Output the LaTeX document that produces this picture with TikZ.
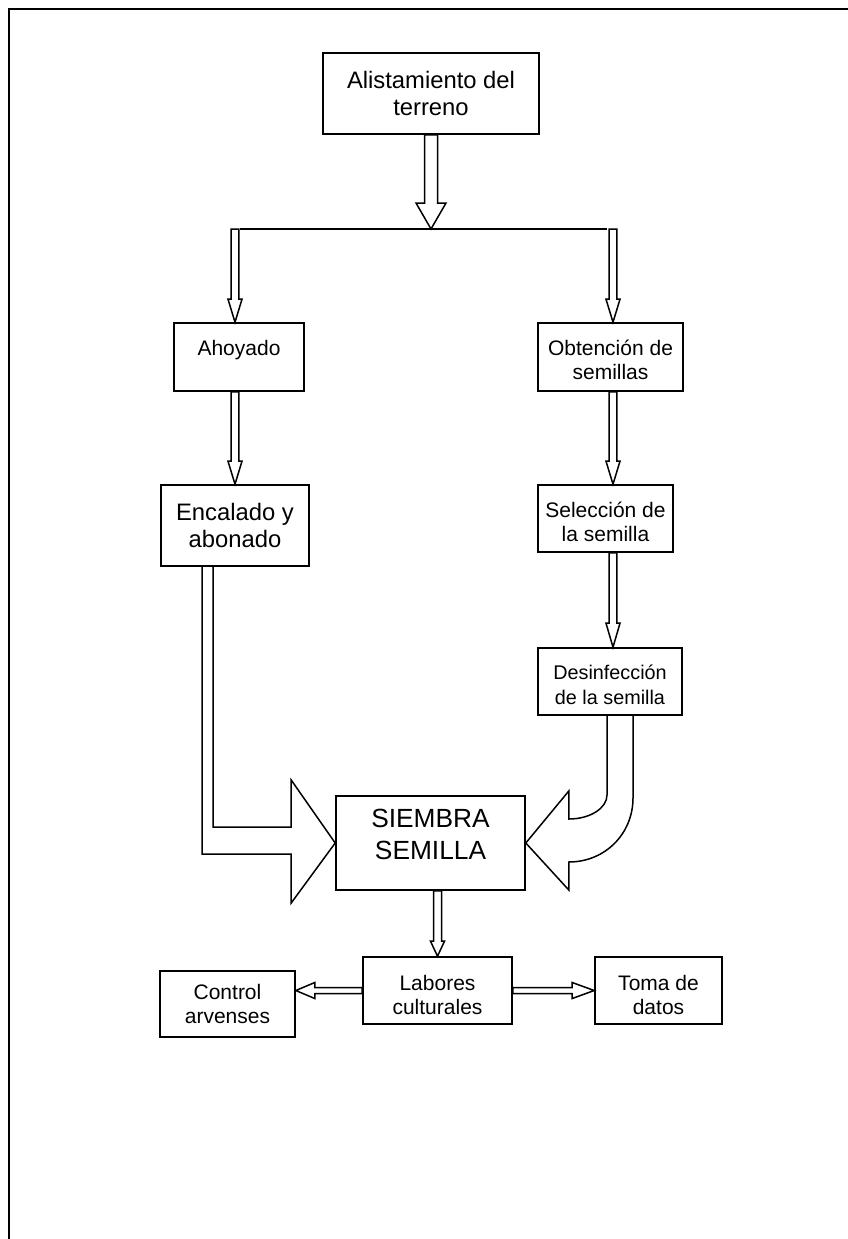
\documentclass[tikz,border=0pt]{standalone}
\usepackage{fontspec}
\setmainfont{Liberation Sans}
\usetikzlibrary{calc}
\newcommand\vblk[5]{\draw[blk] let \p1=(#1), \p2=(#2) in (\x1-#3,\y1) -- (\x1-#3,\y2+#5) -- (\x1-#4,\y2+#5) -- (\x1,\y2) -- (\x1+#4,\y2+#5) -- (\x1+#3,\y2+#5) -- (\x1+#3,\y1) -- cycle;}
\newcommand\hblk[6]{\draw[blk] let \p1=(#1), \p2=(#2), \n1={#6*#5} in (\x1,\y1+#3) -- ({\x2-\n1},\y1+#3) -- ({\x2-\n1},\y1+#4) -- (\x2,\y1) -- ({\x2-\n1},\y1-#4) -- ({\x2-\n1},\y1-#3) -- (\x1,\y1-#3) -- cycle;}
\newcommand\toppad[1]{\rule{0pt}{#1}}
\begin{document}
\begin{tikzpicture}[x=1pt,y=-1pt,
  box/.style={draw,line width=1.6pt,align=center,inner sep=0pt},
  sm/.style={font=\fontsize{21}{24}\selectfont},
  bg/.style={font=\fontsize{23.8}{27}\selectfont},
  blk/.style={draw,line width=1.5pt,line join=miter}]
\useasboundingbox (0,0) rectangle (848,1239);
% frame
\draw[line width=2.6pt] (9,9) -- (848,9);
\draw[line width=2pt] (9,8) -- (9,1239);
% boxes
\node[box,bg,minimum width=216pt,minimum height=81pt] (alis) at (431,93.5) {Alistamiento del\\terreno};
\node[box,sm,minimum width=130pt,minimum height=68pt] (ahoy) at (239,357) {\toppad{21.5pt}Ahoyado\\~};
\node[box,sm,minimum width=145pt,minimum height=68pt] (obt) at (610.5,357) {\toppad{21.5pt}Obtención de\\semillas};
\node[box,bg,minimum width=148pt,minimum height=81pt] (enc) at (235,525.5) {Encalado y\\abonado};
\node[box,sm,minimum width=135pt,minimum height=67pt] (sel) at (605.5,518.5) {\toppad{21.5pt}Selección de\\la semilla};
\node[box,font=\fontsize{19.8}{25}\selectfont,minimum width=144pt,minimum height=67pt] (des) at (610,681.5) {\toppad{20.5pt}Desinfección\\de la semilla};
\node[box,font=\fontsize{26.3}{32}\selectfont,minimum width=189pt,minimum height=94pt] (sie) at (430.5,843) {SIEMBRA\\SEMILLA\rule[-18pt]{0pt}{0pt}};
\node[box,sm,minimum width=149pt,minimum height=67pt] (lab) at (437.5,990.5) {\toppad{23.3pt}Labores\\culturales};
\node[box,sm,minimum width=135pt,minimum height=66pt] (ctl) at (227.5,1004) {Control\\arvenses};
\node[box,sm,minimum width=127pt,minimum height=67pt] (toma) at (658.5,990.5) {\toppad{23.3pt}Toma de\\datos};
% branch
\coordinate (br) at (431,229);
\coordinate (bl) at (235,229);
\coordinate (brr) at (613,229);
\vblk{alis.south}{br}{6.5pt}{15pt}{26pt}
\draw[line width=1.5pt] ($(bl)+(5,0)$) -- ($(brr)+(-6,0)$);
\vblk{bl}{bl |- ahoy.north}{3.8pt}{7pt}{23pt}
\vblk{brr}{brr |- obt.north}{3.8pt}{7pt}{23pt}
\vblk{bl |- ahoy.south}{bl |- enc.north}{3.8pt}{7pt}{23pt}
\vblk{brr |- obt.south}{brr |- sel.north}{3.8pt}{7pt}{23pt}
\vblk{brr |- sel.south}{brr |- des.north}{3.8pt}{7pt}{24pt}
\vblk{sie.south -| lab.north}{lab.north}{4pt}{7pt}{15pt}
\hblk{lab.west}{ctl.east |- lab.west}{3pt}{8pt}{19pt}{-1}
\hblk{lab.east}{toma.west |- lab.east}{3pt}{8pt}{22pt}{1}
% bent arrow from Encalado to Siembra
\draw[blk] let \p1=(enc.south), \p2=(sie.west) in
  (\x1-22pt,\y1) -- (\x1-22pt,\y2+16pt) -- (\x2-44pt,\y2+16pt) -- (\x2-44pt,\y2+63pt)
  -- (\x2,\y2) -- (\x2-44pt,\y2-60pt) -- (\x2-44pt,\y2-11pt) -- (\x1-33pt,\y2-11pt)
  -- (\x1-33pt,\y1);
% curved arrow from Desinfeccion to Siembra
\draw[blk] let \p1=(des.south), \p2=(sie.east) in
  (\x1-3pt,\y1) -- (\x1-3pt,\y2+48pt)
  .. controls (\x1-3pt,\y2+35pt) and (\x2+64.5pt,\y2+24pt) .. (\x2+43pt,\y2+24pt)
  -- (\x2+43pt,\y2+52pt) -- (\x2,\y2) -- (\x2+43pt,\y2-47pt) -- (\x2+43pt,\y2-19pt)
  .. controls (\x2+79pt,\y2-19pt) and (\x1+23pt,\y2+9pt) .. (\x1+23pt,\y2+45pt)
  -- (\x1+23pt,\y1);
\end{tikzpicture}
\end{document}
